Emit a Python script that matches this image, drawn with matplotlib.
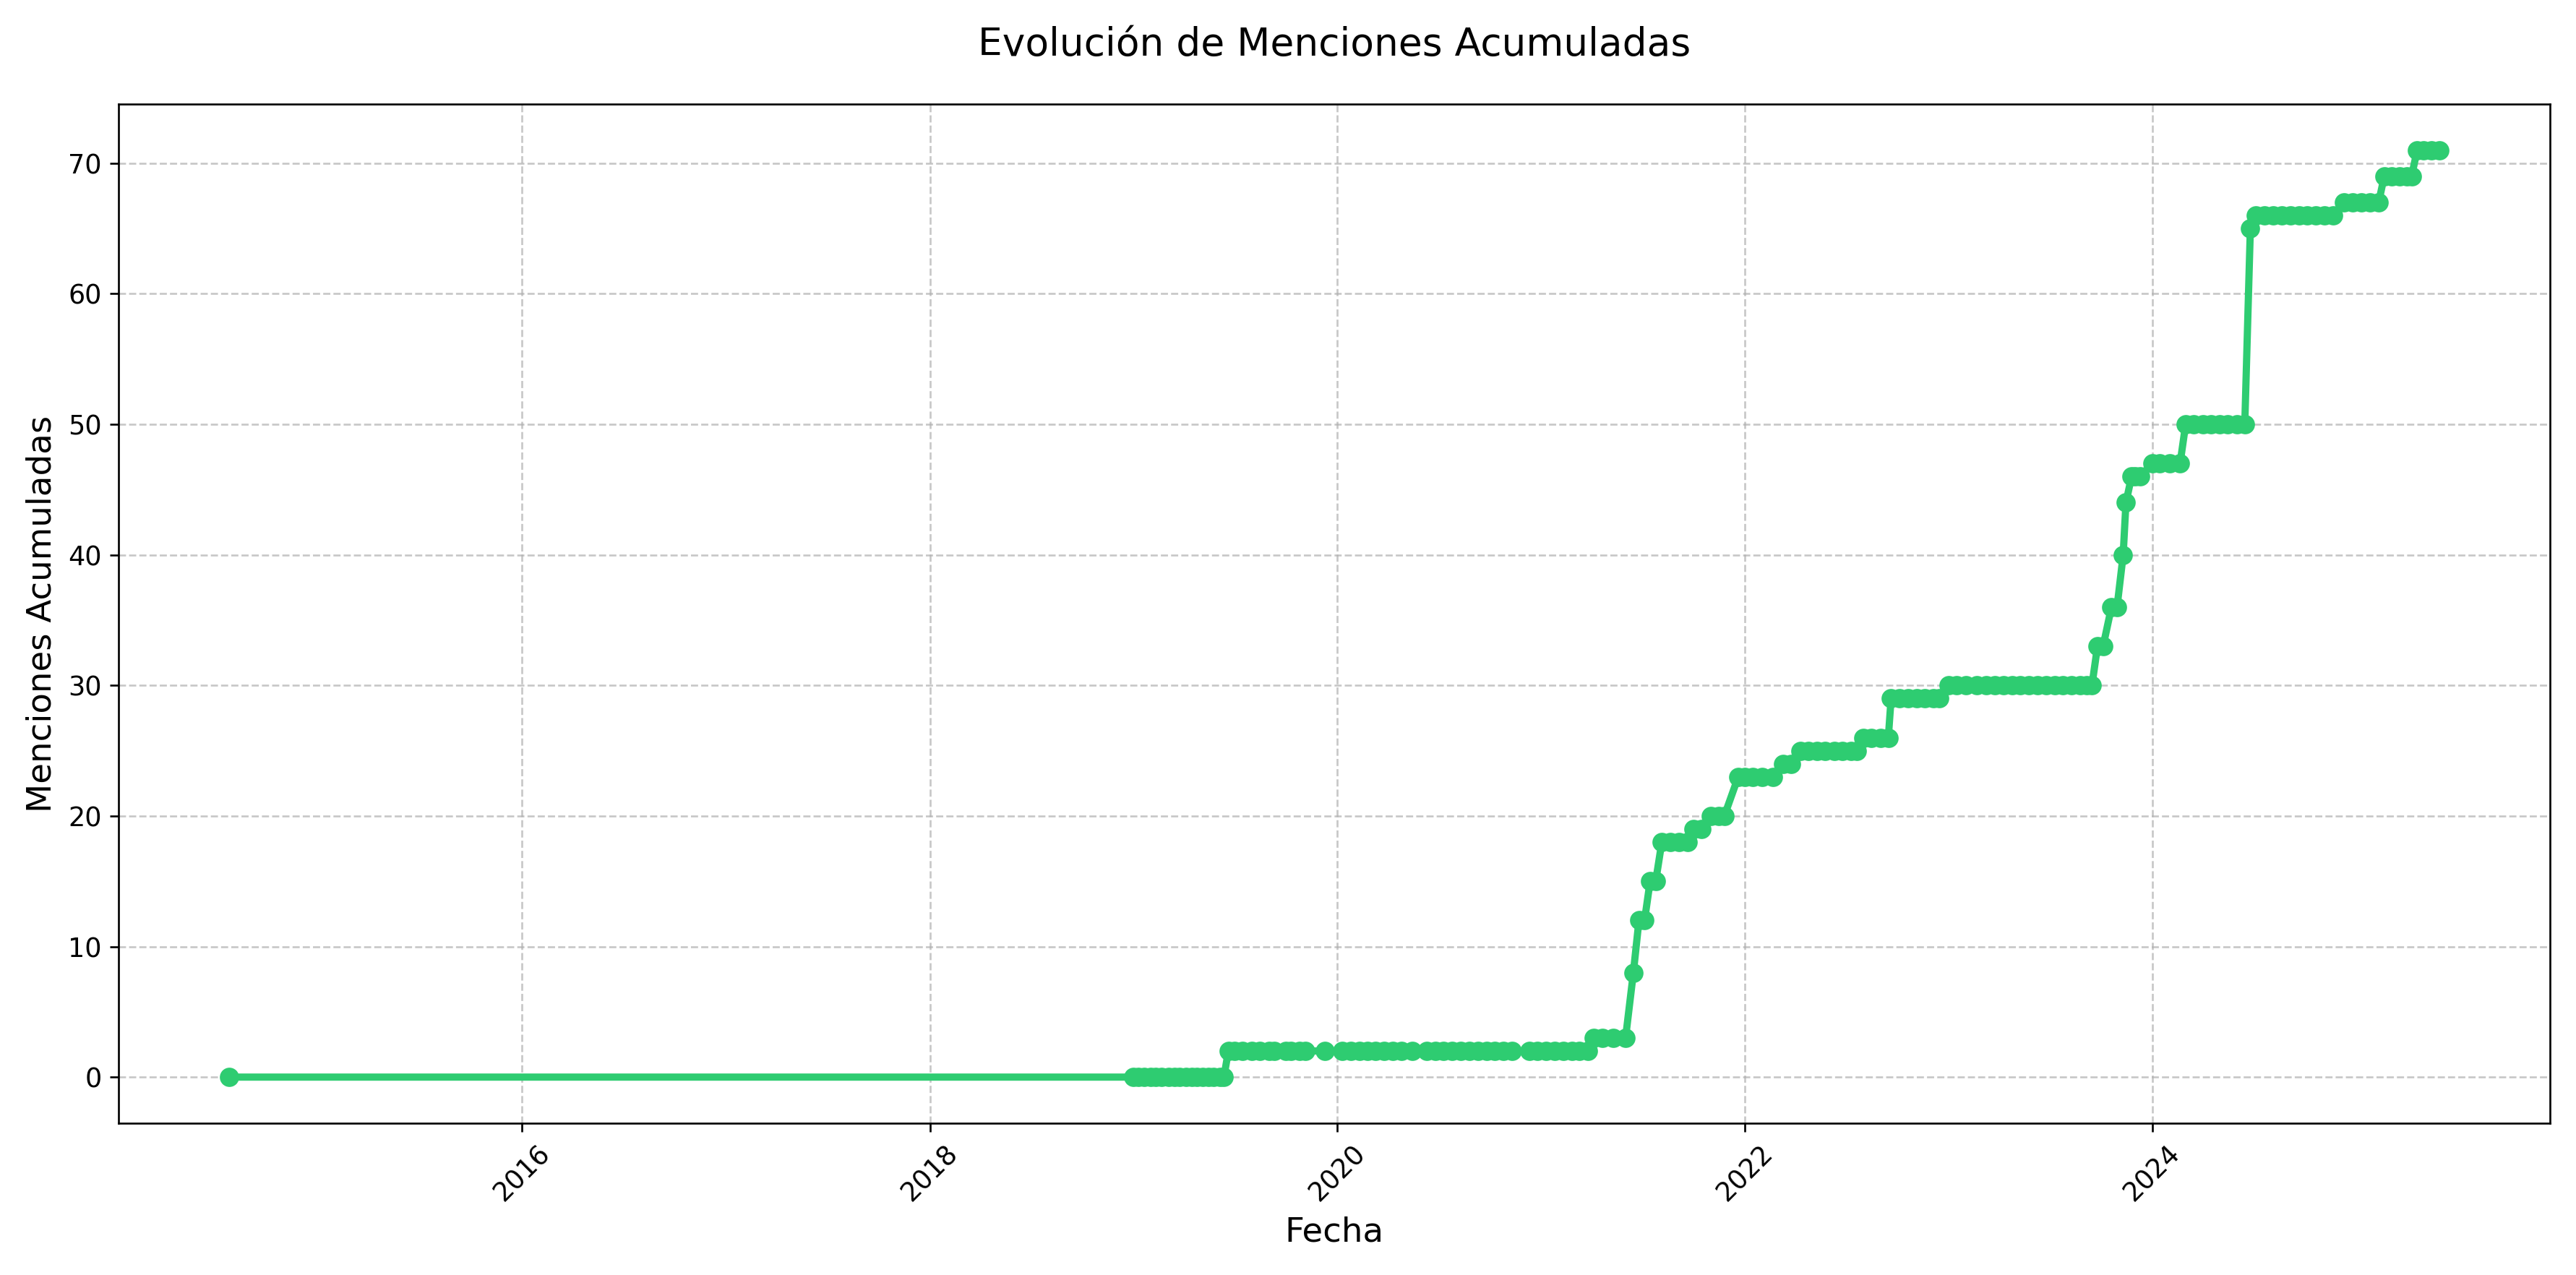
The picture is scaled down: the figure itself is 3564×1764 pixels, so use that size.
import matplotlib
matplotlib.use("Agg")
import matplotlib.pyplot as plt
import pandas as pd

fechas = [
 "2014-07-25",
 "2019-01-01","2019-01-10","2019-01-20","2019-02-01","2019-02-10","2019-02-20","2019-03-05","2019-03-15","2019-03-25",
 "2019-04-05","2019-04-15","2019-04-25","2019-05-05","2019-05-15","2019-05-25","2019-06-05","2019-06-12",
 "2019-06-20","2019-07-01","2019-07-15","2019-08-01","2019-08-15","2019-09-01","2019-09-10","2019-10-01","2019-10-10",
 "2019-10-25","2019-11-05","2019-12-10","2020-01-10","2020-01-25","2020-02-10","2020-02-25","2020-03-10","2020-03-25",
 "2020-04-10","2020-04-25","2020-05-15","2020-06-10","2020-06-25","2020-07-10","2020-07-25","2020-08-10","2020-08-25",
 "2020-09-10","2020-09-25","2020-10-10","2020-10-25","2020-11-10","2020-12-10","2020-12-25","2021-01-10","2021-01-25",
 "2021-02-10","2021-02-25","2021-03-10","2021-03-25",
 "2021-04-05","2021-04-20","2021-05-10","2021-06-01",
 "2021-06-15","2021-06-25","2021-07-05","2021-07-15","2021-07-25",
 "2021-08-05","2021-08-20","2021-09-05","2021-09-20","2021-10-01","2021-10-15","2021-11-01","2021-11-15","2021-11-25",
 "2021-12-20","2022-01-01","2022-01-15","2022-02-01","2022-02-20","2022-03-10","2022-03-25",
 "2022-04-10","2022-04-25","2022-05-10","2022-05-25","2022-06-10","2022-06-25","2022-07-10","2022-07-20",
 "2022-08-01","2022-08-15","2022-09-01","2022-09-15","2022-09-20","2022-10-05","2022-10-20","2022-11-05","2022-11-20","2022-12-05","2022-12-15",
 "2023-01-01","2023-01-15","2023-02-01","2023-02-20","2023-03-10","2023-03-25","2023-04-10","2023-04-25","2023-05-10","2023-05-25",
 "2023-06-10","2023-06-25","2023-07-10","2023-07-25","2023-08-10","2023-08-25","2023-09-05","2023-09-15",
 "2023-09-25","2023-10-05","2023-10-20","2023-10-30","2023-11-10","2023-11-15","2023-11-25","2023-12-01","2023-12-10",
 "2024-01-01","2024-01-15","2024-02-01","2024-02-20","2024-03-01","2024-03-15","2024-04-01","2024-04-15","2024-05-01","2024-05-15","2024-06-01","2024-06-15",
 "2024-06-25","2024-07-05","2024-07-20","2024-08-05","2024-08-20","2024-09-05","2024-09-20","2024-10-05","2024-10-20","2024-11-05","2024-11-20",
 "2024-12-10","2024-12-25","2025-01-10","2025-01-25","2025-02-10","2025-02-20","2025-03-05","2025-03-20","2025-04-01","2025-04-10",
 "2025-04-20","2025-05-01","2025-05-15","2025-05-30",
]
menciones = [
 0,
 0,0,0,0,0,0,0,0,0, 0,0,0,0,0,0,0,0,
 2,2,2,2,2,2,2,2,2,2,
 2,2,2,2,2,2,2,2,2,2,
 2,2,2,2,2,2,2,2,2,2,
 2,2,2,2,2,2,2,2,2,2,
 3,3,3,3,
 8,12,12,15,15,
 18,18,18,18,19,19,20,20,20,
 23,23,23,23,23,24,24,
 25,25,25,25,25,25,25,25,
 26,26,26,26,29,29,29,29,29,29,29,
 30,30,30,30,30,30,30,30,30,30,
 30,30,30,30,30,30,30,30,
 33,33,36,36,40,44,46,46,46,
 47,47,47,47,50,50,50,50,50,50,50,50,
 65,66,66,66,66,66,66,66,66,66,66,
 67,67,67,67,67,69,69,69,69,69,
 71,71,71,71,
]

x = pd.to_datetime(fechas)
fig, ax = plt.subplots(figsize=(14.85, 7.35), dpi=240)
ax.plot(x, menciones, color="#2ecc71", linewidth=3, marker="o", markersize=7)
ax.set_title("Evolución de Menciones Acumuladas", fontsize=16, pad=20)
ax.set_xlabel("Fecha", fontsize=14)
ax.set_ylabel("Menciones Acumuladas", fontsize=14)
ax.grid(True, linestyle="--", alpha=0.7)
ax.tick_params(axis="x", rotation=45)
ax.tick_params(labelsize=11)
fig.tight_layout()
fig.savefig("out.png")
